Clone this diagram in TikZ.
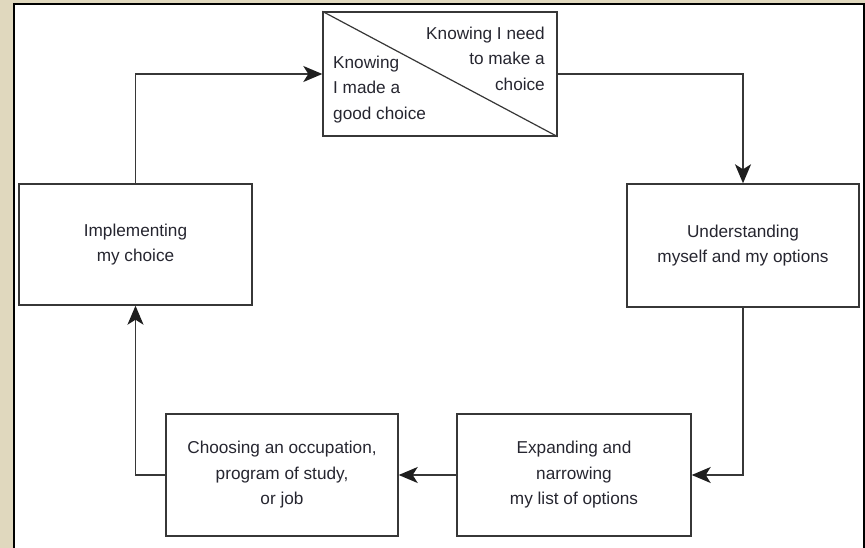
\documentclass[tikz,border=0pt]{standalone}
\usepackage{fontspec}
\setmainfont{Liberation Sans}
\usetikzlibrary{arrows.meta}
\definecolor{paper}{RGB}{224,216,190}
\definecolor{ink}{RGB}{55,55,55}
\definecolor{tip}{RGB}{30,30,30}
\definecolor{txt}{RGB}{38,38,48}
\begin{document}
\begin{tikzpicture}[x=1bp,y=-1bp,
  labeltext/.style={text=txt,inner sep=0pt,font=\fontsize{17.2bp}{25.5bp}\selectfont},
  stagebox/.style={labeltext,draw=ink,line width=1.4bp,fill=white,align=center},
  flow/.style={draw=ink,line width=1.4bp,-{Stealth[length=19bp,width=16bp,inset=5bp,color=tip]}}
]
\useasboundingbox (0,0) rectangle (865,548);
% page background and white panel
\fill[paper] (0,0) rectangle (865,548);
\fill[white] (14,4) rectangle (864,549);
\draw[black,line width=2bp] (14,549) -- (14,4) -- (864,4) -- (864,549);

% split box at the top of the cycle
\node[stagebox,minimum width=234bp,minimum height=124bp] (need) at (440,74) {};
\draw[ink,line width=1.2bp] (need.north west) -- (need.south east);
\node[labeltext,anchor=north east,align=right] (needtxt) at (545,26.8) {Knowing I need\\to make a\\choice};
\node[labeltext,anchor=north west,align=left] (madetxt) at (333,55.8) {Knowing\\I made a\\good choice};

% the four stages
\node[stagebox,minimum width=232bp,minimum height=123bp] (understand) at (743,245.5) {Understanding\\myself and my options};
\node[stagebox,minimum width=234bp,minimum height=122bp] (expand) at (574,475) {Expanding and\\narrowing\\my list of options};
\node[stagebox,minimum width=232bp,minimum height=122bp] (choose) at (282,475) {Choosing an occupation,\\program of study,\\or job};
\node[stagebox,minimum width=233bp,minimum height=121bp] (implement) at (135.5,244.5) {Implementing\\my choice};

% connectors around the cycle
\draw[flow] (need.east) -| (understand.north);
\draw[flow] (understand.south) |- (expand.east);
\draw[flow] (expand.west) -- (choose.east);
\draw[flow] (choose.west) -| (implement.south);
\draw[flow] (implement.north) |- (need.west);
\end{tikzpicture}
\end{document}
